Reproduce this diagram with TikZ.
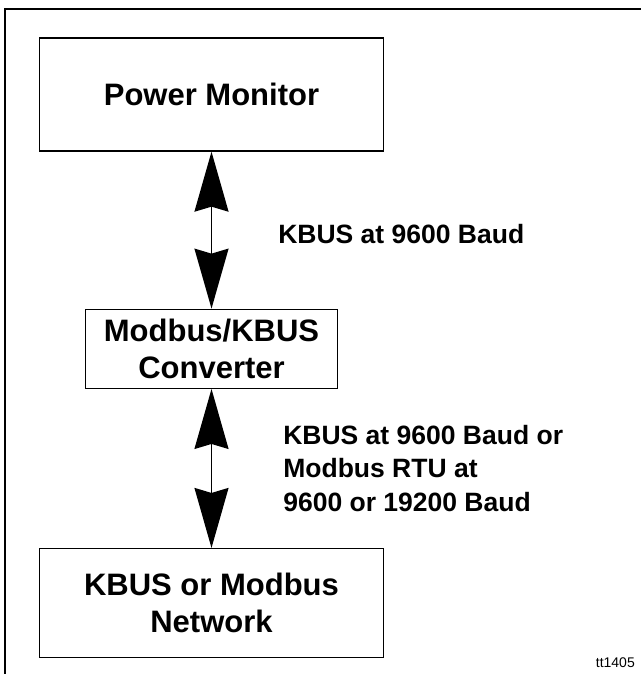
\documentclass[tikz,border=0pt]{standalone}
\usepackage{fontspec}
\setmainfont{Liberation Sans}
\usepackage{tikz}
\usetikzlibrary{arrows.meta,positioning}
\tikzset{
unitbox/.style={rectangle,draw=black,line width=1.3pt,fill=white,inner sep=0pt,align=center,font=\fontsize{31}{37}\selectfont\bfseries},
linklabel/.style={inner sep=0pt,align=left,font=\fontsize{26.5}{33.5}\selectfont\bfseries},
dblarrow/.style={{Stealth[length=60pt,width=34pt,inset=5pt]}-{Stealth[length=60pt,width=34pt,inset=5pt]},line width=1.6pt,draw=black}
}
\begin{document}
\begin{tikzpicture}[x=1pt,y=1pt]
\useasboundingbox (0,0) rectangle (640,-674);
\draw[line width=1.6pt] (5,-680) -- (5,-9) -- (645,-9);
\node[unitbox,minimum width=344pt,minimum height=113pt] (pm) at (211.5,-94.5) {Power Monitor};
\node[unitbox,minimum width=252pt,minimum height=79pt,below=157pt of pm] (conv) {Modbus/KBUS\\Converter};
\node[unitbox,minimum width=344pt,minimum height=109pt,below=159pt of conv] (net) {KBUS or Modbus\\Network};
\draw[dblarrow] (pm) -- node[linklabel,right=66pt,yshift=-4pt] (lbltop) {KBUS at 9600 Baud} (conv);
\draw[dblarrow] (conv) -- node[linklabel,right=71pt] (lblbot) {KBUS at 9600 Baud or\\Modbus RTU at\\9600 or 19200 Baud} (net);
\node[anchor=base east,inner sep=0pt,font=\fontsize{14}{16}\selectfont] (tag) at (635,-667) {tt1405};
\end{tikzpicture}
\end{document}
